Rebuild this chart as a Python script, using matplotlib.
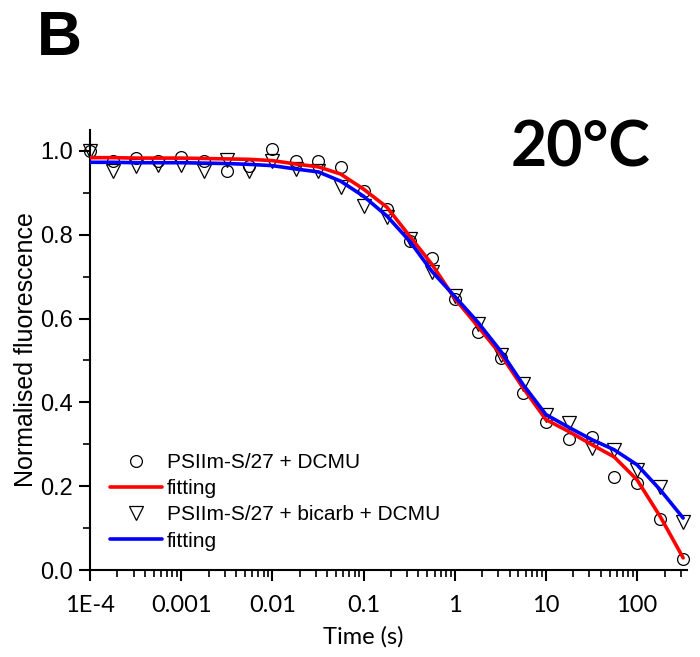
import matplotlib
matplotlib.use("Agg")
import matplotlib.pyplot as plt
from matplotlib.ticker import FixedLocator, MultipleLocator, NullFormatter

# -----------------------------
# DATA
# -----------------------------

time_s = [1e-4, 1.8e-4, 3.2e-4, 5.6e-4, 1e-3, 1.8e-3, 3.2e-3, 5.6e-3,
          0.01, 0.018, 0.032, 0.056, 0.1, 0.18, 0.32, 0.56,
          1, 1.8, 3.2, 5.6, 10, 18, 32, 56, 100, 180, 320]

dcmu = [1.0, 0.976, 0.983, 0.976, 0.986, 0.976, 0.952, 0.965,
        1.005, 0.976, 0.976, 0.962, 0.904, 0.861, 0.785, 0.744,
        0.646, 0.569, 0.505, 0.423, 0.354, 0.313, 0.318, 0.222,
        0.208, 0.122, 0.026]

bicarb = [1.0, 0.952, 0.964, 0.967, 0.967, 0.952, 0.978, 0.952,
          0.976, 0.957, 0.952, 0.914, 0.868, 0.842, 0.789, 0.711,
          0.655, 0.586, 0.512, 0.445, 0.371, 0.352, 0.292, 0.287,
          0.239, 0.199, 0.115]

fit_dcmu = [0.984, 0.984, 0.983, 0.983, 0.983, 0.982, 0.981, 0.980,
            0.977, 0.969, 0.962, 0.945, 0.909, 0.866, 0.797, 0.730,
            0.648, 0.581, 0.514, 0.435, 0.359, 0.330, 0.299, 0.270,
            0.215, 0.127, 0.029]

fit_bicarb = [0.973, 0.973, 0.972, 0.972, 0.972, 0.971, 0.970, 0.968,
              0.965, 0.957, 0.950, 0.928, 0.892, 0.845, 0.785, 0.713,
              0.653, 0.591, 0.522, 0.443, 0.371, 0.340, 0.311, 0.287,
              0.251, 0.191, 0.124]

labels = ["PSIIm-S/27 + DCMU", "fitting",
          "PSIIm-S/27 + bicarb + DCMU", "fitting"]

xtick_vals = [1e-4, 1e-3, 1e-2, 1e-1, 1, 10, 100]
xtick_text = ["1E-4", "0.001", "0.01", "0.1", "1", "10", "100"]

# -----------------------------
# FIGURE
# -----------------------------

fig = plt.figure(figsize=(7, 6.57), dpi=100)
ax = fig.add_axes([0.1286, 0.1324, 0.8524, 0.6697])

h1, = ax.plot(time_s, dcmu, linestyle="none", marker="o", ms=8.5,
              mfc="none", mec="black", mew=0.9, clip_on=False, zorder=2)
h3, = ax.plot(time_s, bicarb, linestyle="none", marker="v", ms=9.5,
              mfc="none", mec="black", mew=0.9, clip_on=False, zorder=2)
h2, = ax.plot(time_s, fit_dcmu, color="#ff0000", lw=2.6, zorder=3,
              solid_capstyle="round", solid_joinstyle="round")
h4, = ax.plot(time_s, fit_bicarb, color="#0000ff", lw=2.6, zorder=3,
              solid_capstyle="round", solid_joinstyle="round")

ax.set_xscale("log")
ax.set_xlim(1e-4, 350)
ax.set_ylim(0, 1.05)

# axes style
for side in ["top", "right"]:
    ax.spines[side].set_visible(False)
for side in ["left", "bottom"]:
    ax.spines[side].set_linewidth(1.5)

ax.xaxis.set_major_locator(FixedLocator(xtick_vals))
ax.set_xticklabels(xtick_text, fontfamily="Lato", fontsize=17)
ax.xaxis.set_minor_locator(FixedLocator(
    [m * 10.0 ** e for e in range(-4, 3) for m in range(2, 10)]))
ax.xaxis.set_minor_formatter(NullFormatter())

ax.yaxis.set_major_locator(MultipleLocator(0.2))
ax.yaxis.set_minor_locator(MultipleLocator(0.1))
ax.yaxis.set_major_formatter(plt.FuncFormatter(lambda v, p: f"{v:.1f}"))
for lab in ax.get_yticklabels():
    lab.set_fontfamily("Liberation Sans")
    lab.set_fontsize(17)

ax.tick_params(which="major", direction="out", length=8, width=1.5)
ax.tick_params(axis="y", which="major", pad=4)
ax.tick_params(axis="x", which="major", pad=10)
ax.tick_params(which="minor", direction="out", length=5, width=1.2)

ax.set_ylabel("Normalised fluorescence", fontfamily="Liberation Sans",
              fontsize=18, labelpad=2)
fig.text(363 / 700, 1 - 637 / 657, "Time (s)", fontfamily="Lato",
         fontsize=17, ha="center", va="center")

leg = ax.legend([h1, h2, h3, h4], labels, loc="lower left",
                bbox_to_anchor=(0.02, 0.025), borderaxespad=0,
                frameon=False, prop={"family": "Liberation Sans", "size": 15},
                handlelength=2.5, handletextpad=0.2, labelspacing=0.35)

fig.text(37 / 700, 1 - 55 / 657, "B", fontfamily="Liberation Sans",
         fontweight="bold", fontsize=45, ha="left", va="baseline")
fig.text(650 / 700, 1 - 167 / 657, "20°C", fontfamily="Lato",
         fontweight="bold", fontsize=45, ha="right", va="baseline")

plt.savefig("out.png", dpi=100)
